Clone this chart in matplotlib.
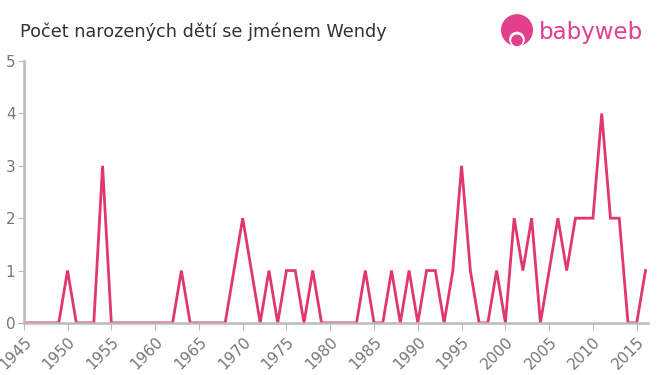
import matplotlib

matplotlib.use("Agg")
import matplotlib.pyplot as plt
from matplotlib.patches import Circle

# ── data ────────────────────────────────────────────────────────────────────
years = list(range(1945, 2017))
counts = [
    0, 0, 0, 0, 0, 1, 0, 0, 0, 3,  # 1945-1954
    0, 0, 0, 0, 0, 0, 0, 0, 1, 0,  # 1955-1964
    0, 0, 0, 0, 1, 2, 1, 0, 1, 0,  # 1965-1974
    1, 1, 0, 1, 0, 0, 0, 0, 0, 1,  # 1975-1984
    0, 0, 1, 0, 1, 0, 1, 1, 0, 1,  # 1985-1994
    3, 1, 0, 0, 1, 0, 2, 1, 2, 0,  # 1995-2004
    1, 2, 1, 2, 2, 2, 4, 2, 2, 0,  # 2005-2014
    0, 1,                          # 2015-2016
]
xticks = list(range(1945, 2016, 5))
yticks = [0, 1, 2, 3, 4, 5]
title = "Počet narozených dětí se jménem Wendy"

LINE = "#e0386c"
LOGO = "#e2408a"
AXIS = "#bbbbbb"
TICK = "#777777"

fig = plt.figure(figsize=(6.6, 3.75), dpi=100)
ax = fig.add_axes([0.036, 0.139, 0.946, 0.698])

ax.plot(years, counts, color=LINE, linewidth=2, solid_joinstyle="miter", zorder=2)

ax.set_xlim(1945, 2016.3)
ax.set_ylim(0, 5)
ax.set_xticks(xticks)
ax.set_yticks(yticks)
ax.tick_params(axis="x", colors=AXIS, labelcolor=TICK, labelsize=11,
               length=5, labelrotation=45, pad=3)
for lbl in ax.get_xticklabels():
    lbl.set_ha("right")
    lbl.set_rotation_mode("anchor")
ax.tick_params(axis="y", colors=AXIS, labelcolor=TICK, labelsize=11,
               length=4, pad=2)
for side in ("top", "right"):
    ax.spines[side].set_visible(False)
for side in ("left", "bottom"):
    ax.spines[side].set_color(AXIS)
    ax.spines[side].set_linewidth(1.8)
    ax.spines[side].set_zorder(3)

fig.text(0.030, 0.915, title, fontsize=12.7, color="#333333", va="center")

# logo
lax = fig.add_axes([500 / 660, 1 - 48 / 375, 34 / 660, 34 / 375])
lax.set_xlim(-1, 1)
lax.set_ylim(-1, 1)
lax.set_aspect("equal")
lax.axis("off")
lax.add_patch(Circle((0, 0.05), 0.9, color=LOGO))
lax.add_patch(Circle((0, -0.5), 0.42, color="white"))
lax.add_patch(Circle((0, -0.55), 0.3, color=LOGO))
fig.text(539 / 660, 1 - 33 / 375, "babyweb", fontsize=16.5, color=LOGO,
         va="center", ha="left")

fig.savefig("out.png", dpi=100)
